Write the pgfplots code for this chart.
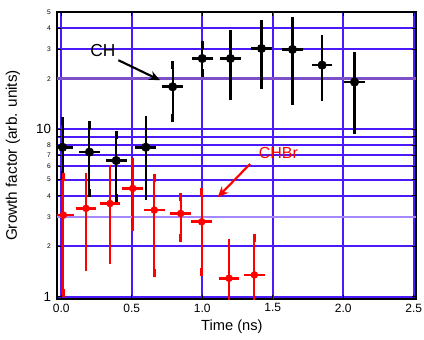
\documentclass[border=0pt]{standalone}
\usepackage{pgfplots}
\usepackage{pgfplotstable}
\pgfplotsset{compat=1.18}
\usetikzlibrary{arrows.meta}
\usepackage{fontspec}
\setmainfont{Liberation Sans}
\definecolor{gridblue}{RGB}{75,25,250}
\definecolor{gridlight}{RGB}{165,135,255}
\definecolor{gridpurple}{RGB}{125,80,200}

\pgfplotstableread{
x y ep em
0.01 7.8 3.4 2.5
0.20 7.3 3.3 3.15
0.39 6.5 2.7 2.6
0.60 7.8 3.5 3.8
0.79 17.9 6.2 6.3
1.00 26.4 5.3 4.7
1.20 26.4 10.8 10.7
1.42 30.3 12.0 12.0
1.64 29.9 14.3 15.2
1.85 24.1 10.2 8.6
2.08 19.1 8.2 9.15
}\chdata

\pgfplotstableread{
x y ep em
0.015 3.07 2.13 2.02
0.176 3.37 1.83 1.86
0.346 3.6 2.2 1.94
0.507 4.43 1.97 1.83
0.66 3.29 1.79 1.91
0.847 3.14 0.81 0.91
0.996 2.8 1.43 1.39
1.19 1.29 0.79 0.39
1.37 1.35 0.88 0.45
}\chbrdata

\newcommand{\bg}[1]{{\fontsize{10}{10}\selectfont #1}}
\newcommand{\sm}[1]{{\fontsize{5}{5}\selectfont #1}}

\begin{document}
\begin{tikzpicture}
\begin{axis}[
  scale only axis, width=269.25pt, height=215.25pt,
  xmin=-0.03, xmax=2.516,
  ymode=log, ymin=0.97, ymax=50,
  axis line style={line width=1.6pt, black},
  xtick={0,0.5,1,2,2.5},
  extra x ticks={1.5},
  extra x tick style={grid style={gridlight, line width=0.8pt}},
  xmajorgrids, ymajorgrids,
  major grid style={gridblue, line width=1.5pt},
  ytick={1,2,3,4,5,6,7,8,9,10,20,30,40,50},
  yticklabels={\bg{1},\sm{2},\sm{3},\sm{4},\sm{5},\sm{6},\sm{7},\sm{8},{},\bg{10},\sm{2},\sm{3},\sm{4},\sm{5}},
  tick align=inside, major tick length=3pt,
  tick style={black, line width=0.8pt},
  /pgf/number format/assume math mode=true,
  xticklabel style={font=\fontsize{9}{9}\selectfont, /pgf/number format/.cd, fixed, fixed zerofill, precision=1},
  yticklabel style={xshift=-1pt},
  xlabel={Time (ns)},
  ylabel={Growth factor (arb. units)},
  xlabel style={font=\fontsize{11}{11}\selectfont, at={(axis description cs:0.487,0)}, anchor=center, yshift=-20.5pt},
  ylabel style={font=\fontsize{11.5}{11.5}\selectfont, at={(axis description cs:0,0.5)}, anchor=center, yshift=33pt},
]
% special grid lines
\addplot[gridpurple, line width=2pt, forget plot] coordinates {(-0.03,20) (2.516,20)};
\addplot[gridlight, line width=1.5pt, forget plot] coordinates {(-0.03,3) (2.516,3)};

\addplot[black, only marks, mark=*, mark size=3.2pt,
  error bars/.cd, y dir=both, y explicit, x dir=both, x fixed=0.045,
  error bar style={line width=1.6pt, black},
  error mark options={mark size=3pt, line width=2pt, black}]
  table[x=x, y=y, y error plus=ep, y error minus=em] {\chdata};

\addplot[red, only marks, mark=*, mark size=2.6pt,
  error bars/.cd, y dir=both, y explicit, x dir=both, x fixed=0.045,
  error bar style={line width=1.4pt, red},
  error mark options={mark size=3pt, line width=2pt, red}]
  table[x=x, y=y, y error plus=ep, y error minus=em] {\chbrdata};

\node[font=\fontsize{13}{13}\selectfont] at (axis cs:0.296,29.6) {CH};
\draw[-{Stealth[length=8pt,width=7pt]}, line width=1.6pt] (axis cs:0.405,25.8) -- (axis cs:0.70,19.6);
\node[red, font=\fontsize{12}{12}\selectfont] at (axis cs:1.54,7.19) {CHBr};
\draw[red, -{Stealth[length=8pt,width=7pt]}, line width=1.6pt] (axis cs:1.339,6.2) -- (axis cs:1.11,3.93);
\end{axis}
\pgfresetboundingbox
\path ([xshift=-42.75pt,yshift=-30pt]current axis.south west) rectangle ([xshift=6pt,yshift=9pt]current axis.north east);
\end{tikzpicture}
\end{document}
